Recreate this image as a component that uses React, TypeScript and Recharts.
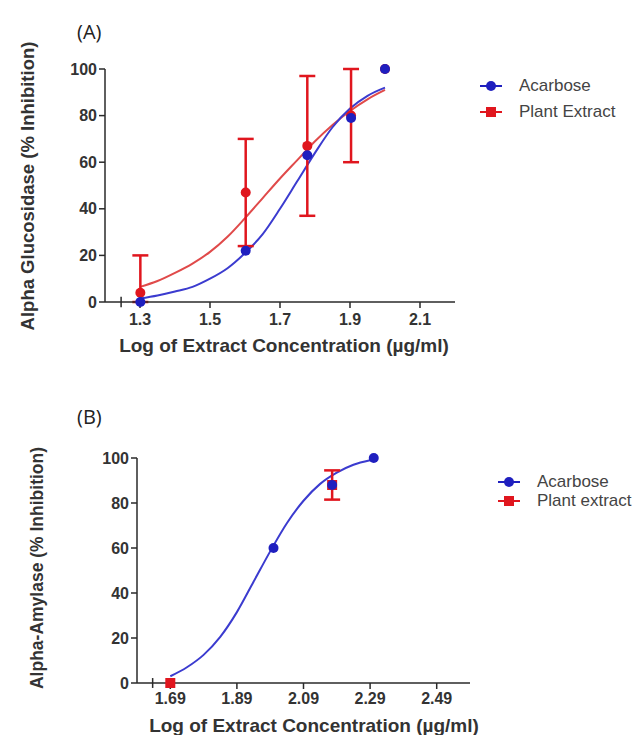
import {
  ComposedChart,
  Line,
  Scatter,
  XAxis,
  YAxis,
  ErrorBar,
  ReferenceLine,
} from "recharts";

// ---- (A) alpha glucosidase ----
const glucoX = [1.301, 1.602, 1.778, 1.903, 2.0];
const glucoAcarbose = [0, 22, 63, 79, 100];
const glucoPlant = [4, 47, 67, 80, 100];
const glucoPlantErr: (number | number[])[] = [[4, 16], 23, 30, 20, 0];

// fitted curves
const glucoCurveX = [1.3, 1.35, 1.4, 1.45, 1.5, 1.55, 1.6, 1.65, 1.7, 1.75, 1.8, 1.85, 1.9, 1.95, 2.0];
const glucoAcarboseCurve = [1.5, 2.8, 4.5, 6.5, 10, 14.5, 21, 29, 40, 52, 64, 75, 83, 88.5, 92];
const glucoPlantCurve = [6.5, 9, 12.5, 16.5, 21.5, 28, 36, 44.5, 53, 61, 69, 76, 82, 87, 91];

const glucoTicksX = [1.3, 1.5, 1.7, 1.9, 2.1];

// ---- (B) alpha amylase ----
const amylaseX = [2.0, 2.176, 2.301];
const amylaseAcarbose = [60, 88, 100];
const amylasePlantX = [1.69, 2.176];
const amylasePlant = [0, 88];
const amylasePlantErr = [0, 6.5];

const amylaseCurveX = [1.69, 1.74, 1.79, 1.84, 1.89, 1.94, 1.99, 2.04, 2.09, 2.14, 2.19, 2.24, 2.29];
const amylaseAcarboseCurve = [3, 7, 12.5, 20.5, 31.5, 45, 58.5, 71, 81, 88.5, 93.5, 97, 99];

const amylaseTicksX = [1.69, 1.89, 2.09, 2.29, 2.49];

const yTicks = [0, 20, 40, 60, 80, 100];

const BLUE = "#1f1fbf";
const BLUE_LINE = "#3b3bcf";
const RED = "#e0161e";
const RED_LINE = "#e04a4a";
const AXIS = "#2a2a2a";
const FONT = "Liberation Sans, Arial, sans-serif";

const toPoints = (xs: number[], ys: number[], errs?: (number | number[])[]) =>
  xs.map((x, i) => ({ x, y: ys[i], err: errs ? errs[i] : 0 }));

const dotShape = (color: string) => (p: any) =>
  <circle cx={p.cx} cy={p.cy} r={5} fill={color} />;
const squareShape = (color: string) => (p: any) =>
  <rect x={p.cx - 5} y={p.cy - 5} width={10} height={10} fill={color} />;

const tickStyle = { fill: "#333", fontSize: 16, fontWeight: 700, fontFamily: FONT };

function LegendRow({ color, square, label, top, left }: any) {
  return (
    <div style={{ position: "absolute", top, left, display: "flex", alignItems: "center", fontFamily: FONT, fontSize: 17, color: "#444" }}>
      <svg width={26} height={12} style={{ marginRight: 15 }}>
        <line x1={2} y1={6} x2={24} y2={6} stroke={color} strokeWidth={2} />
        {square ? <rect x={8} y={1} width={10} height={10} fill={color} /> : <circle cx={13} cy={6} r={5} fill={color} />}
      </svg>
      <span>{label}</span>
    </div>
  );
}

const abs = (left: number, top: number, extra: any = {}) => ({ position: "absolute" as const, left, top, ...extra });

const axisProps = {
  tick: tickStyle,
  tickSize: 6,
  axisLine: { stroke: AXIS, strokeWidth: 1.5 },
  tickLine: { stroke: AXIS, strokeWidth: 1.5 },
};

export default function App() {
  const gAca = toPoints(glucoX, glucoAcarbose);
  const gPlant = toPoints(glucoX, glucoPlant, glucoPlantErr);
  const gAcaCurve = toPoints(glucoCurveX, glucoAcarboseCurve);
  const gPlantCurve = toPoints(glucoCurveX, glucoPlantCurve);

  const aAca = toPoints(amylaseX, amylaseAcarbose);
  const aPlant = toPoints(amylasePlantX, amylasePlant, amylasePlantErr);
  const aAcaCurve = toPoints(amylaseCurveX, amylaseAcarboseCurve);

  return (
    <div style={{ position: "absolute", left: 0, top: 0, width: 635, height: 735, background: "#fff", overflow: "hidden" }}>
      {/* panel A */}
      <div style={abs(0, 0)}>
        <ComposedChart width={635} height={360} margin={{ top: 69, right: 180, bottom: 28, left: 65 }}>
          <XAxis type="number" dataKey="x" domain={[1.2, 2.2]} ticks={glucoTicksX} allowDataOverflow tickMargin={6} height={30} {...axisProps} />
          <YAxis type="number" domain={[0, 100]} ticks={yTicks} width={40} tickMargin={2} {...axisProps} />
          <ReferenceLine
            segment={[{ x: 1.246, y: -2.2 }, { x: 1.246, y: 2.2 }]}
            stroke={AXIS}
            strokeWidth={1.5}
            ifOverflow="visible"
          />
          <Line data={gPlantCurve} dataKey="y" type="monotone" stroke={RED_LINE} strokeWidth={2} dot={false} isAnimationActive={false} />
          <Line data={gAcaCurve} dataKey="y" type="monotone" stroke={BLUE_LINE} strokeWidth={2} dot={false} isAnimationActive={false} />
          <Scatter data={gPlant} dataKey="y" shape={dotShape(RED)} isAnimationActive={false}>
            <ErrorBar dataKey="err" direction="y" width={8} stroke={RED} strokeWidth={2.5} />
          </Scatter>
          <Scatter data={gAca} dataKey="y" shape={dotShape(BLUE)} isAnimationActive={false} />
        </ComposedChart>
      </div>
      <div style={abs(77, 18, { fontFamily: "Open Sans, sans-serif", fontSize: 20, color: "#222" })}>(A)</div>
      <div style={abs(28, 186, { transform: "translate(-50%, -50%) rotate(-90deg)", whiteSpace: "nowrap", fontFamily: FONT, fontWeight: 700, fontSize: 18.5, color: "#333" })}>
        Alpha Glucosidase (% Inhibition)
      </div>
      <div style={abs(284, 346, { transform: "translate(-50%, -50%)", whiteSpace: "nowrap", fontFamily: FONT, fontWeight: 700, fontSize: 19, color: "#333" })}>
        Log of Extract Concentration (µg/ml)
      </div>
      <LegendRow color={BLUE} label="Acarbose" top={76} left={478} />
      <LegendRow color={RED} square label="Plant Extract" top={102} left={478} />

      {/* panel B */}
      <div style={abs(0, 380)}>
        <ComposedChart width={635} height={355} margin={{ top: 78, right: 165, bottom: 22, left: 97 }}>
          <XAxis type="number" dataKey="x" domain={[1.59, 2.59]} ticks={amylaseTicksX} allowDataOverflow tickMargin={4} height={30} {...axisProps} />
          <YAxis type="number" domain={[0, 100]} ticks={yTicks} width={40} tickMargin={2} {...axisProps} />
          <ReferenceLine
            segment={[{ x: 1.637, y: -2.2 }, { x: 1.637, y: 2.2 }]}
            stroke={AXIS}
            strokeWidth={1.5}
            ifOverflow="visible"
          />
          <Line data={aAcaCurve} dataKey="y" type="monotone" stroke={BLUE_LINE} strokeWidth={2} dot={false} isAnimationActive={false} />
          <Scatter data={aPlant} dataKey="y" shape={squareShape(RED)} isAnimationActive={false}>
            <ErrorBar dataKey="err" direction="y" width={8} stroke={RED} strokeWidth={2.5} />
          </Scatter>
          <Scatter data={aAca} dataKey="y" shape={dotShape(BLUE)} isAnimationActive={false} />
        </ComposedChart>
      </div>
      <div style={abs(77, 403, { fontFamily: "Open Sans, sans-serif", fontSize: 20, color: "#222" })}>(B)</div>
      <div style={abs(37, 568, { transform: "translate(-50%, -50%) rotate(-90deg)", whiteSpace: "nowrap", fontFamily: FONT, fontWeight: 700, fontSize: 17.5, color: "#333" })}>
        Alpha-Amylase (% Inhibition)
      </div>
      <div style={abs(314, 726, { transform: "translate(-50%, -50%)", whiteSpace: "nowrap", fontFamily: FONT, fontWeight: 700, fontSize: 19, color: "#333" })}>
        Log of Extract Concentration (µg/ml)
      </div>
      <LegendRow color={BLUE} label="Acarbose" top={472} left={496} />
      <LegendRow color={RED} square label="Plant extract" top={491} left={496} />
    </div>
  );
}
